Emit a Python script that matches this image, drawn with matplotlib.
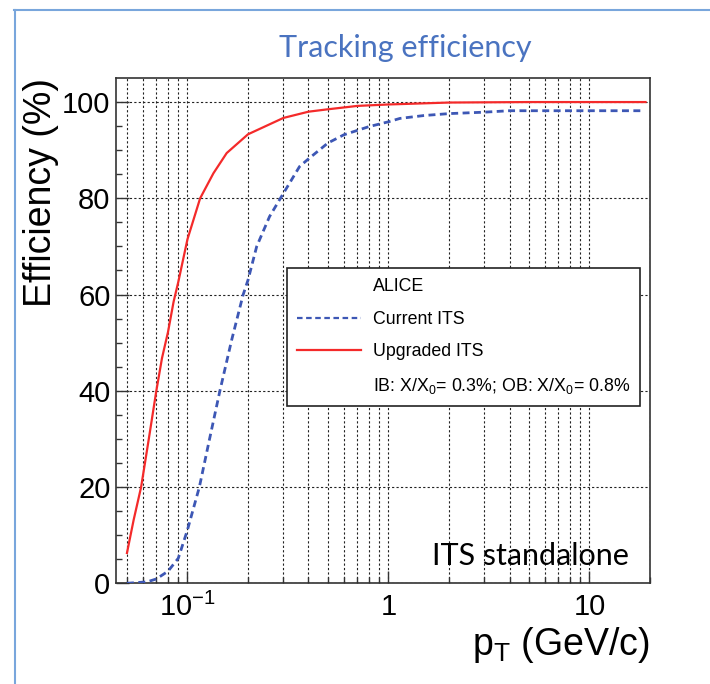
import matplotlib
matplotlib.use('Agg')
import matplotlib.pyplot as plt
from matplotlib.lines import Line2D
from matplotlib.ticker import FixedLocator, LogLocator, FuncFormatter

plt.rcParams['font.family'] = ['Liberation Sans', 'DejaVu Sans']
plt.rcParams['mathtext.fontset'] = 'custom'
plt.rcParams['mathtext.rm'] = 'Liberation Sans'
plt.rcParams['mathtext.it'] = 'Liberation Sans'

# tracking efficiency vs pT
pt_upgraded = [0.05, 0.054, 0.0588, 0.0641, 0.07, 0.0747, 0.08, 0.0853, 0.09,
               0.1, 0.1156, 0.1346, 0.1567, 0.2, 0.3, 0.4, 0.5, 0.7, 1.0,
               2.0, 5.0, 19.0]
eff_upgraded = [6.3, 13.2, 20.0, 29.8, 40.0, 46.8, 52.2, 58.5, 62.6,
                71.5, 80.0, 85.2, 89.4, 93.3, 96.7, 98.0, 98.5, 99.2, 99.5,
                99.9, 100.0, 100.0]

pt_current = [0.05, 0.063, 0.07, 0.08, 0.09, 0.1, 0.1146, 0.1285, 0.145, 0.166,
              0.189, 0.2, 0.221, 0.256, 0.29, 0.361, 0.4, 0.5, 0.6, 0.8, 1.0,
              1.14, 1.5, 2.0, 3.0, 4.0, 18.0]
eff_current = [0.0, 0.3, 0.9, 2.5, 5.2, 11.1, 20.0, 29.8, 40.0, 50.6,
               59.9, 63.0, 70.0, 76.2, 80.0, 86.6, 88.2, 91.5, 93.2, 94.9, 95.9,
               96.6, 97.2, 97.6, 97.9, 98.2, 98.2]

x_ticks = [0.1, 1, 10]
x_tick_labels = [r'$10^{-1}$', '1', '10']
y_ticks = [0, 20, 40, 60, 80, 100]

red = '#f42a2a'
blue = '#3d57b5'

fig = plt.figure(figsize=(7.1, 6.84), dpi=100)
ax = fig.add_axes([116 / 710, 1 - 583.3 / 684, 534 / 710, 505.3 / 684])

ax.plot(pt_current, eff_current, color=blue, lw=2.0, ls=(0, (2.5, 1.6)), zorder=3)
ax.plot(pt_upgraded, eff_upgraded, color=red, lw=1.6, zorder=4)

ax.set_xscale('log')
ax.set_xlim(0.0441, 20)
ax.set_ylim(0, 105)

ax.xaxis.set_major_locator(FixedLocator(x_ticks))
ax.xaxis.set_major_formatter(FuncFormatter(lambda v, p: x_tick_labels[x_ticks.index(v)] if v in x_ticks else ''))
ax.xaxis.set_minor_locator(LogLocator(base=10, subs=range(2, 10)))
ax.xaxis.set_minor_formatter(FuncFormatter(lambda v, p: ''))
ax.set_yticks(y_ticks)
ax.set_yticks(range(5, 105, 5), minor=True)

ax.tick_params(which='both', direction='in', top=False, right=False,
               labelsize=21, color='#333333')
ax.tick_params(which='major', length=9, width=1.0)
ax.tick_params(which='minor', length=4, width=1.0)
ax.tick_params(axis='x', pad=7)
ax.tick_params(axis='y', pad=4)

ax.grid(which='major', axis='both', color='#222222', ls=(0, (2, 2)), lw=0.8)
ax.grid(which='minor', axis='x', color='#222222', ls=(0, (2, 2)), lw=0.8)
for s in ax.spines.values():
    s.set_color('#333333')
    s.set_linewidth(1.2)

ax.set_ylabel('Efficiency (%)', fontsize=27, loc='top', labelpad=2)
ax.set_xlabel(r'$\mathregular{p_{T}}$ (GeV/c)', fontsize=27, loc='right', labelpad=2)

handles = [Line2D([], [], color='none'),
           Line2D([], [], color=blue, lw=1.6, ls=(0, (2.5, 1.6))),
           Line2D([], [], color=red, lw=1.6),
           Line2D([], [], color='none')]
labels = ['ALICE', 'Current ITS', 'Upgraded ITS',
          r'IB: X/X$_{0}$= 0.3%; OB: X/X$_{0}$= 0.8%']
leg = ax.legend(handles, labels, loc='upper left',
                bbox_to_anchor=((287 - 116) / 534, (583.3 - 268.3) / 505.3),
                fontsize=12.8, frameon=True, fancybox=False, framealpha=1,
                edgecolor='#222222', borderpad=0.55, labelspacing=0.88,
                handlelength=3.6, handletextpad=0.7, borderaxespad=0)
leg.get_frame().set_linewidth(1.2)

ax.text(0.96, 0.055, 'ITS standalone', transform=ax.transAxes, ha='right',
        va='center', fontsize=22, family='Lato', color='black')

fig.text(405 / 710, 1 - 48 / 684, 'Tracking efficiency', ha='center', va='center',
         fontsize=22, family='Lato', color='#4a73c0')

# slide frame lines
fig.add_artist(Line2D([14 / 710, 1], [1 - 10 / 684, 1 - 10 / 684],
                      transform=fig.transFigure, color='#79a6dc', lw=1.5))
fig.add_artist(Line2D([15 / 710, 15 / 710], [0, 1 - 10 / 684],
                      transform=fig.transFigure, color='#79a6dc', lw=1.5))

fig.savefig('out.png', dpi=100)
